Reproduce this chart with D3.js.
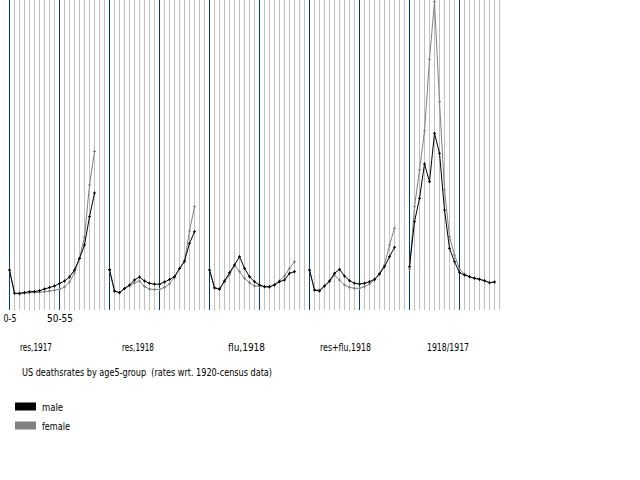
<!DOCTYPE html>
<html lang="en">
<head>
<meta charset="utf-8">
<script src="https://cdn.jsdelivr.net/npm/d3@7"></script>
<style>
  body { margin: 0; background: #fff; }
  text { font-family: "Liberation Sans Narrow", "Arial Narrow", "DejaVu Sans Condensed", sans-serif; font-size: 11px; fill: #000; }
</style>
</head>
<body>
<script>
var width = 640;
var height = 480;

// age groups (5 year steps)
var ages = ["0-5", "5-10", "10-15", "15-20", "20-25", "25-30", "30-35", "35-40", "40-45",
            "45-50", "50-55", "55-60", "60-65", "65-70", "70-75", "75-80", "80-85", "85-90"];
var tickLabels = ["0-5", "50-55"];
var panels = ["res,1917", "res,1918", "flu,1918", "res+flu,1918", "1918/1917"];
var title = "US deathsrates by age5-group  (rates wrt. 1920-census data)";
var legendLabels = ["male", "female"];

// values, one array per panel and sex
var maleRes1917   = [4.0, 1.67, 1.67, 1.75, 1.83, 1.85, 1.93, 2.1, 2.25, 2.4, 2.65, 2.9, 3.3, 4.0, 5.15, 6.5, 9.33, 11.7];
var femaleRes1917 = [4.0, 1.67, 1.6, 1.67, 1.73, 1.75, 1.77, 1.83, 1.9, 1.97, 2.07, 2.3, 2.8, 3.7, 5.2, 7.3, 12.5, 15.85];
var maleRes1918   = [4.05, 1.9, 1.73, 2.15, 2.5, 3.0, 3.3, 2.9, 2.67, 2.58, 2.58, 2.8, 3.05, 3.33, 4.15, 4.9, 6.67, 7.83];
var femaleRes1918 = [3.95, 1.9, 1.73, 2.15, 2.4, 2.7, 2.9, 2.35, 2.1, 2.05, 2.05, 2.27, 2.6, 3.27, 4.15, 4.8, 7.9, 10.33];
var maleFlu1918   = [4.0, 2.23, 2.07, 2.9, 3.73, 4.5, 5.33, 4.17, 3.33, 2.83, 2.5, 2.33, 2.33, 2.5, 2.83, 3.0, 3.67, 3.83];
var femaleFlu1918 = [4.0, 2.2, 2.15, 2.83, 3.5, 4.5, 3.83, 3.17, 2.73, 2.4, 2.4, 2.33, 2.27, 2.57, 2.93, 3.4, 4.17, 4.83];
var maleBoth1918  = [4.0, 2.0, 1.9, 2.4, 2.9, 3.67, 4.07, 3.4, 2.93, 2.67, 2.6, 2.67, 2.83, 3.07, 3.6, 4.33, 5.33, 6.27];
var femaleBoth1918= [4.0, 2.0, 2.0, 2.4, 2.83, 3.5, 3.0, 2.5, 2.27, 2.17, 2.17, 2.33, 2.6, 3.0, 3.67, 4.5, 6.5, 8.17];
var maleRatio     = [4.33, 8.83, 11.17, 14.6, 12.83, 17.67, 15.67, 10.0, 6.17, 4.83, 3.73, 3.5, 3.33, 3.17, 3.07, 2.93, 2.73, 2.8];
var femaleRatio   = [4.1, 10.33, 14.0, 17.9, 25.07, 30.83, 20.83, 12.0, 7.33, 5.5, 4.07, 3.6, 3.33, 3.17, 3.07, 2.93, 2.73, 2.8];

var maleSeries   = [maleRes1917, maleRes1918, maleFlu1918, maleBoth1918, maleRatio];
var femaleSeries = [femaleRes1917, femaleRes1918, femaleFlu1918, femaleBoth1918, femaleRatio];

var maleColour = "#000000";
var femaleColour = "#808080";

// layout
var gridTop = 0, gridBottom = 310;
var labelLeft = [20, 122, 228, 320, 427];
var labelWidth = [32, 32, 37, 51, 42];

var svg = d3.select("body")
            .append("svg")
            .attr("width", width)
            .attr("height", height);

var xPanel = d3.scalePoint().domain(panels).range([9.5, 409.5]);
var xAge = d3.scalePoint().domain(ages).range([0, 85]);
var y = d3.scaleLinear().domain([0, 31]).range([gridBottom, gridTop]);

// background grid: a line every age step, a dark one every ten steps
var gridX = d3.scaleLinear().domain([0, 98]).range([9.5, 499.5]);
var grid = svg.append("g").attr("shape-rendering", "crispEdges");
grid.selectAll("line.minor")
    .data(d3.range(99).filter(function(i) { return i % 10 != 0; }))
    .enter().append("line")
    .attr("class", "minor")
    .attr("x1", gridX).attr("x2", gridX)
    .attr("y1", gridTop).attr("y2", gridBottom)
    .attr("stroke", "#c0c0c0");
grid.selectAll("line.major")
    .data(d3.range(0, 99, 10))
    .enter().append("line")
    .attr("class", "major")
    .attr("x1", gridX).attr("x2", gridX)
    .attr("y1", gridTop).attr("y2", gridBottom)
    .attr("stroke", "#003a75");

var line = d3.line()
             .x(function(d, i) { return xAge(ages[i]); })
             .y(function(d) { return y(d); });

function drawSeries(g, values, colour) {
    g.append("path")
     .attr("d", line(values))
     .attr("fill", "none")
     .attr("stroke", colour)
     .attr("stroke-width", 1);
    g.selectAll("path.mark")
     .data(values)
     .enter().append("path")
     .attr("class", "mark")
     .attr("transform", function(d, i) { return "translate(" + xAge(ages[i]) + "," + y(d) + ")"; })
     .attr("d", "M-1.5,0H1.5M0,-1.5V1.5")
     .attr("stroke", colour)
     .attr("stroke-width", 1);
}

panels.forEach(function(p, k) {
    var g = svg.append("g").attr("transform", "translate(" + xPanel(p) + ",0)");
    drawSeries(g.append("g"), femaleSeries[k], femaleColour);
    drawSeries(g.append("g"), maleSeries[k], maleColour);
});

// age tick labels under the first panel
var axis = d3.axisBottom(xAge).tickValues(tickLabels).tickSize(0).tickPadding(4);
var ax = svg.append("g")
            .attr("transform", "translate(" + xPanel(panels[0]) + "," + gridBottom + ")")
            .call(axis);
ax.select(".domain").remove();
ax.selectAll("text")
  .style("font-family", null).attr("font-family", null).attr("font-size", null)
  .attr("textLength", function(d) { return d == "0-5" ? 13 : 26; })
  .attr("lengthAdjust", "spacingAndGlyphs");
ax.attr("font-family", null).attr("font-size", null);

// panel names
svg.selectAll("text.panel")
   .data(panels)
   .enter().append("text")
   .attr("class", "panel")
   .attr("x", function(d, i) { return labelLeft[i]; })
   .attr("y", 351)
   .attr("textLength", function(d, i) { return labelWidth[i]; })
   .attr("lengthAdjust", "spacingAndGlyphs")
   .text(function(d) { return d; });

svg.append("text")
   .attr("x", 22)
   .attr("y", 375.5)
   .attr("textLength", 250)
   .attr("lengthAdjust", "spacingAndGlyphs")
   .style("white-space", "pre")
   .text(title);

// legend
var legend = svg.selectAll("g.legend")
                .data(legendLabels)
                .enter().append("g")
                .attr("class", "legend")
                .attr("transform", function(d, i) { return "translate(15," + (402.5 + i * 19) + ")"; });
legend.append("rect")
      .attr("width", 21).attr("height", 8)
      .attr("fill", function(d, i) { return i == 0 ? maleColour : femaleColour; });
legend.append("text")
      .attr("x", 27).attr("y", 8.5)
      .attr("textLength", function(d, i) { return i == 0 ? 21 : 28; })
      .attr("lengthAdjust", "spacingAndGlyphs")
      .text(function(d) { return d; });
</script>
</body>
</html>
